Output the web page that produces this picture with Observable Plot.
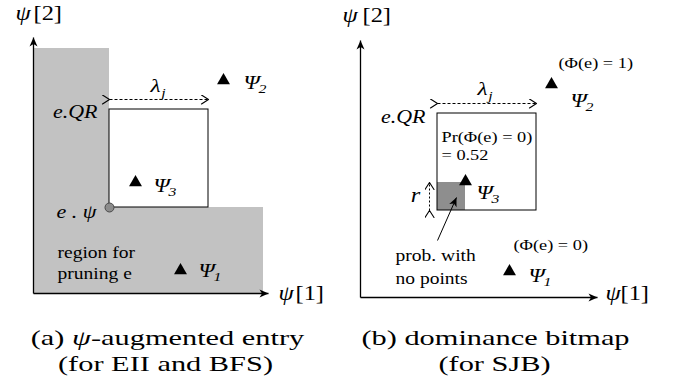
<!DOCTYPE html>
<html><head><meta charset="utf-8">
<script src="https://cdn.jsdelivr.net/npm/d3@7"></script>
<script src="https://cdn.jsdelivr.net/npm/@observablehq/plot@0.6"></script>
<style>
body{margin:0;background:#fff;}
#wrap{display:flex;width:678px;height:388px;overflow:hidden;}
#wrap svg{display:block;flex:none;}
</style></head><body><div id="wrap"></div>
<script>
// ---------- Panel (a): psi-augmented entry ----------
const axesA = [{x1:0,y1:0,x2:0,y2:256},{x1:0,y1:0,x2:235,y2:0}];
const regionA = [{x1:0,x2:76,y1:0,y2:245},{x1:0,x2:230,y1:0,y2:86}];
const boxA = [{x1:76,x2:175,y1:86,y2:184}];
const entryA = [{x:76,y:86}];
const lambdaA = [{x1:76,x2:175,y:194}];
const lambdaLabelA = [{x:122,y:208}];
const pointsA = [{x:147,y:23},{x:190,y:213},{x:102,y:111}];
const psiLabelsA = [{x:165,y:23,sub:"1"},{x:210,y:211,sub:"2"},{x:120,y:108,sub:"3"}];
const italicLabelsA = [{x:64,y:181,t:"e.QR"},{x:63,y:81,t:"e . ψ"}];
const regionTextA = [{x:24,y:41,t:"region for"},{x:24,y:20,t:"pruning e"}];
const axisPsiA = [{x:-18,y:280},{x:245,y:0}];
const axisIdxA = [{x:0,y:280,t:"[2]"},{x:262,y:0,t:"[1]"}];
const captionA = [{x:134,y:-44,t:"(a) ψ-augmented entry"},{x:132,y:-70,t:"(for EII and BFS)"}];

// ---------- Panel (b): dominance bitmap ----------
const axesB = [{x1:0,y1:0,x2:0,y2:257},{x1:0,y1:0,x2:237,y2:0}];
const boxB = [{x1:77,x2:176,y1:87,y2:184}];
const emptyCellB = [{x1:77,x2:105,y1:87,y2:115}];
const rArrowB = [{x:69,y1:87,y2:115}];
const rLabelB = [{x:55,y:102,t:"r"}];
const lambdaB = [{x1:77,x2:176,y:194}];
const lambdaLabelB = [{x:122,y:209}];
const pointsB = [{x:149,y:26},{x:191,y:213},{x:105,y:116}];
const psiLabelsB = [{x:168,y:22,sub:"1"},{x:210,y:197,sub:"2"},{x:116,y:105,sub:"3"}];
const italicLabelsB = [{x:65,y:180,t:"e.QR"}];
const phiTextB = [{x:198,y:234,t:"(Φ(e) = 1)"},{x:153,y:52,t:"(Φ(e) = 0)"}];
const prTextB = [{x:81,y:160,t:"Pr(Φ(e) = 0)"},{x:81,y:142,t:"= 0.52"}];
const probTextB = [{x:35,y:42,t:"prob. with"},{x:35,y:19,t:"no points"}];
const pointerB = [{x1:77,y1:57,x2:96,y2:100}];
const axisPsiB = [{x:-18,y:282},{x:245,y:4}];
const axisIdxB = [{x:2,y:282,t:"[2]"},{x:260,y:4,t:"[1]"}];
const captionB = [{x:135,y:-40,t:"(b) dominance bitmap"},{x:134,y:-66,t:"(for SJB)"}];

const FONT = "Liberation Serif, Times New Roman, serif";

function txt(data, o) {
  return Plot.text(data, Object.assign({x:"x", y:"y", text:"t", textAnchor:"start", fontFamily:FONT, fill:"black"}, o));
}
function psiMarks(data) {
  return [
    Plot.text(data, {x:"x", y:"y", text:() => "Ψ", textAnchor:"start", fontSize:19, fontStyle:"italic", fontFamily:FONT, fill:"black"}),
    Plot.text(data, {x:"x", y:"y", text:"sub", textAnchor:"start", dx:15, dy:6, fontSize:13, fontStyle:"italic", fontFamily:FONT, fill:"black"})
  ];
}
function lambdaMarks(arrow, label) {
  return [
    Plot.link(arrow, {x1:"x1", x2:"x2", y1:"y", y2:"y", stroke:"black", strokeWidth:1, strokeDasharray:"3,2", markerStart:"arrow", markerEnd:"arrow"}),
    Plot.text(label, {x:"x", y:"y", text:() => "λ", fontSize:19, fontStyle:"italic", fontFamily:FONT, fill:"black"}),
    Plot.text(label, {x:"x", y:"y", text:() => "j", dx:8, dy:7, fontSize:13, fontStyle:"italic", fontFamily:FONT, fill:"black"})
  ];
}
function axisMarks(axes, psi, idx) {
  return [
    Plot.link(axes, {x1:"x1", y1:"y1", x2:"x2", y2:"y2", stroke:"black", strokeWidth:1.3, markerEnd:"arrow"}),
    Plot.text(psi, {x:"x", y:"y", text:() => "ψ", textAnchor:"start", fontSize:20, fontStyle:"italic", fontFamily:FONT, fill:"black"}),
    txt(idx, {fontSize:20})
  ];
}

const plotA = Plot.plot({
  width:339, height:388, margin:0,
  x:{domain:[-33,306], axis:null}, y:{domain:[-95,293], axis:null},
  style:{overflow:"visible", background:"white"},
  marks:[
    Plot.rect(regionA, {x1:"x1", x2:"x2", y1:"y1", y2:"y2", fill:"#c2c2c2"}),
    Plot.rect(boxA, {x1:"x1", x2:"x2", y1:"y1", y2:"y2", fill:"none", stroke:"black", strokeWidth:1}),
    ...axisMarks(axesA, axisPsiA, axisIdxA),
    Plot.dot(entryA, {x:"x", y:"y", r:4.5, fill:"#8c8c8c", stroke:"#4a4a4a", strokeWidth:1}),
    ...lambdaMarks(lambdaA, lambdaLabelA),
    Plot.dot(pointsA, {x:"x", y:"y", symbol:"triangle", r:4.8, fill:"black"}),
    ...psiMarks(psiLabelsA),
    txt(italicLabelsA, {textAnchor:"end", fontSize:18, fontStyle:"italic"}),
    txt(regionTextA, {fontSize:16}),
    txt(captionA, {textAnchor:"middle", fontSize:22})
  ]
});

const plotB = Plot.plot({
  width:339, height:388, margin:0,
  x:{domain:[-21,318], axis:null}, y:{domain:[-91,297], axis:null},
  style:{overflow:"visible", background:"white"},
  marks:[
    Plot.rect(emptyCellB, {x1:"x1", x2:"x2", y1:"y1", y2:"y2", fill:"#8e8e8e"}),
    Plot.rect(boxB, {x1:"x1", x2:"x2", y1:"y1", y2:"y2", fill:"none", stroke:"black", strokeWidth:1}),
    ...axisMarks(axesB, axisPsiB, axisIdxB),
    Plot.link(rArrowB, {x1:"x", x2:"x", y1:"y1", y2:"y2", stroke:"black", strokeWidth:1, strokeDasharray:"2,2", markerStart:"arrow", markerEnd:"arrow"}),
    txt(rLabelB, {textAnchor:"middle", fontSize:20, fontStyle:"italic"}),
    ...lambdaMarks(lambdaB, lambdaLabelB),
    Plot.dot(pointsB, {x:"x", y:"y", symbol:"triangle", r:4.8, fill:"black"}),
    ...psiMarks(psiLabelsB),
    txt(italicLabelsB, {textAnchor:"end", fontSize:18, fontStyle:"italic"}),
    txt(phiTextB, {fontSize:15}),
    txt(prTextB, {fontSize:15}),
    txt(probTextB, {fontSize:16}),
    Plot.link(pointerB, {x1:"x1", y1:"y1", x2:"x2", y2:"y2", stroke:"black", strokeWidth:1, markerEnd:"arrow"}),
    txt(captionB, {textAnchor:"middle", fontSize:22})
  ]
});

const wrap = document.getElementById("wrap");
wrap.append(plotA, plotB);

// Arrow heads: filled for solid lines, open chevrons for dashed lines
function restyleMarkers(svg) {
  svg.querySelectorAll("marker").forEach(m => {
    const g = m.parentNode;
    const dashed = g && g.getAttribute && g.getAttribute("stroke-dasharray");
    const col = m.getAttribute("stroke") || "black";
    m.setAttribute("viewBox", "-10 -5 11 10");
    m.setAttribute("markerWidth", "11");
    m.setAttribute("markerHeight", "10");
    m.setAttribute("markerUnits", "userSpaceOnUse");
    const p = m.querySelector("path");
    if (!p) return;
    p.setAttribute("stroke-dasharray", "none");
    if (dashed) {
      p.setAttribute("d", "M-7,-4.5L0,0L-7,4.5");
      p.setAttribute("fill", "none");
      p.setAttribute("stroke-width", "1.1");
    } else {
      p.setAttribute("d", "M-9,-4L0,0L-9,4L-6.5,0Z");
      p.setAttribute("fill", col);
      p.setAttribute("stroke", "none");
    }
  });
}
// Math symbol ψ inside captions set in italic
function italicizePsi(svg) {
  svg.querySelectorAll("text").forEach(t => {
    const s = t.textContent;
    if (s.length > 3 && s.includes("ψ") && parseFloat(getComputedStyle(t).fontSize) >= 22) {
      t.textContent = "";
      s.split(/(ψ)/).forEach(part => {
        if (!part) return;
        const sp = document.createElementNS("http://www.w3.org/2000/svg", "tspan");
        sp.textContent = part;
        if (part === "ψ") sp.setAttribute("font-style", "italic");
        t.appendChild(sp);
      });
    }
  });
}
// Widen the serif glyphs to the reference's set width
function widenText(svg) {
  svg.querySelectorAll("text").forEach(t => {
    const fs = parseFloat(getComputedStyle(t).fontSize);
    const k = fs >= 22 ? 1.38 : 1.22;
    const w = t.getComputedTextLength();
    if (w > 0) {
      t.setAttribute("textLength", (w * k).toFixed(1));
      t.setAttribute("lengthAdjust", "spacingAndGlyphs");
    }
  });
}
[plotA, plotB].forEach(s => { restyleMarkers(s); italicizePsi(s); widenText(s); });
</script></body></html>
